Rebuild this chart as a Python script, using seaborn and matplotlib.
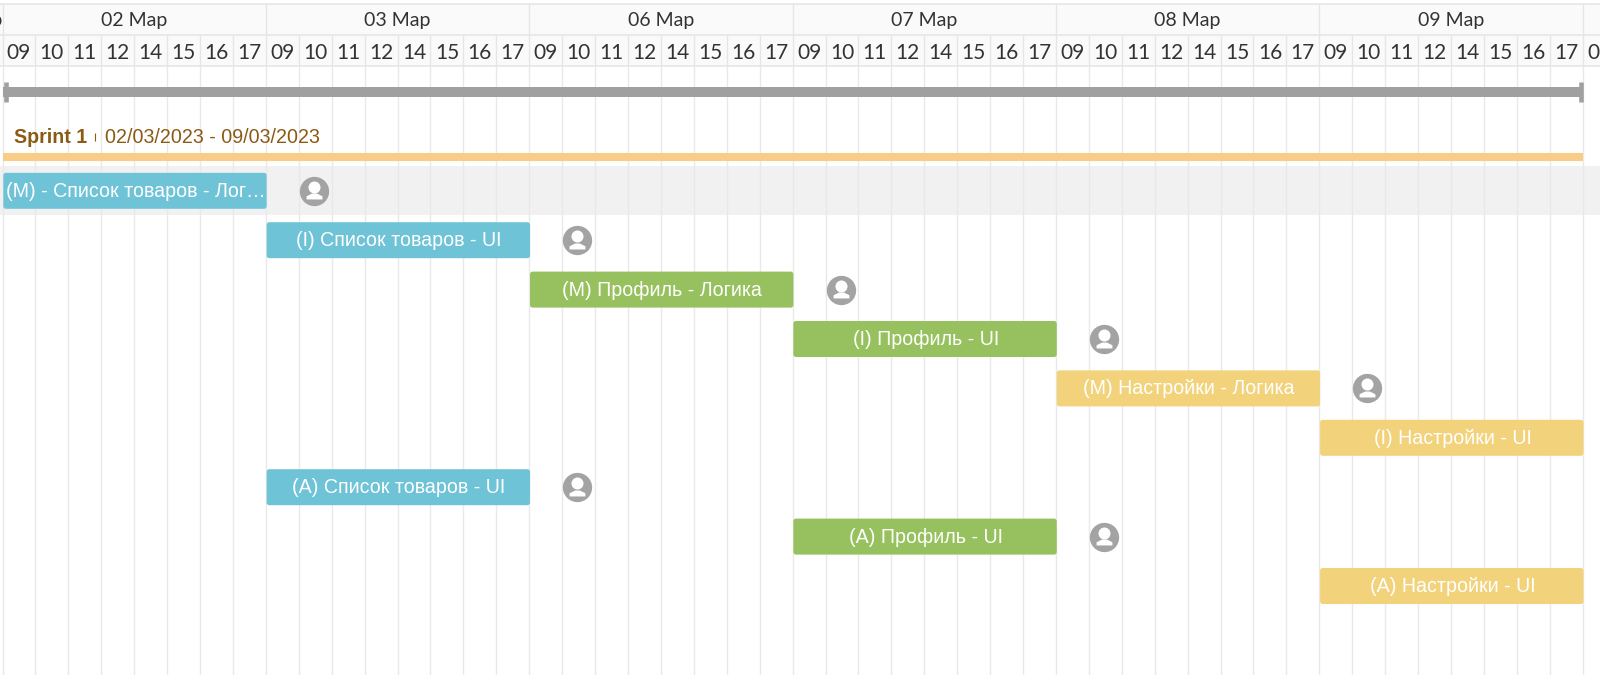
import matplotlib
matplotlib.use('Agg')
import numpy as np
import pandas as pd
import matplotlib.pyplot as plt
import seaborn as sns
from matplotlib.patches import FancyBboxPatch
from matplotlib.path import Path

# time axis is in working hours, 8 per day
day_labels = ['02 Мар', '03 Мар', '06 Мар', '07 Мар', '08 Мар', '09 Мар']
hour_labels = ['09', '10', '11', '12', '14', '15', '16', '17']

task_labels = [
    '(M) - Список товаров - Лог…',
    '(I) Список товаров - UI',
    '(M) Профиль - Логика',
    '(I) Профиль - UI',
    '(M) Настройки - Логика',
    '(I) Настройки - UI',
    '(A) Список товаров - UI',
    '(A) Профиль - UI',
    '(A) Настройки - UI',
]
task_rows = [0, 1, 2, 3, 4, 5, 6, 7, 8]
task_starts = [0, 8, 16, 24, 32, 40, 8, 24, 40]
task_hours = [8, 8, 8, 8, 8, 8, 8, 8, 8]
task_groups = ['list', 'list', 'profile', 'profile', 'settings', 'settings', 'list', 'profile', 'settings']

group_colors = {'list': '#6fc3d6', 'profile': '#96c15e', 'settings': '#f2d27a'}

sprint_name = 'Sprint 1'
sprint_dates = '02/03/2023 - 09/03/2023'
sprint_start = 0
sprint_end = 48

COL_PX = 32.92
ROW_PX = 49.4
X0_PX = 3.3
ROW0_PX = 190.8
GRID_SHIFT = 0.8 / COL_PX
HEADER_FONT = ['Lato', 'Open Sans', 'DejaVu Sans']
BODY_FONT = ['Liberation Sans', 'DejaVu Sans']


def y_px(px):
    """
    Converts a pixel row of the picture into the axis' row units
    """
    return (px - ROW0_PX) / ROW_PX


def x_px(px):
    """
    Converts a pixel column of the picture into the axis' hour units
    """
    return (px - X0_PX) / COL_PX


sns.set_theme(style='white')
fig = plt.figure(figsize=(16, 6.75), dpi=100)
ax = fig.add_axes([0, 0, 1, 1])

tasks = pd.DataFrame({
    'label': task_labels, 'row': task_rows, 'start': task_starts,
    'hours': task_hours, 'group': task_groups,
})
tasks['end'] = tasks['start'] + tasks['hours']

# one barplot per task since every bar has its own left edge
for _, task in tasks.iterrows():
    sns.barplot(x=[task['hours']], y=[task['row']], left=task['start'], orient='h', native_scale=True,
                color=group_colors[task['group']], saturation=1, width=36 / ROW_PX, linewidth=0, ax=ax)

# swap the square bars for slightly rounded ones
for bar in list(ax.patches):
    rounded = FancyBboxPatch((bar.get_x(), bar.get_y()), bar.get_width(), bar.get_height(),
                             boxstyle='round,pad=0,rounding_size=0.08', mutation_aspect=COL_PX / ROW_PX,
                             facecolor=bar.get_facecolor(), edgecolor='none', zorder=4)
    bar.remove()
    ax.add_patch(rounded)

ax.set_xlim(x_px(0), x_px(1600))
ax.set_ylim(y_px(675), y_px(0))
ax.axis('off')

for _, task in tasks.iterrows():
    ax.text(task['start'] + task['hours'] / 2 + 0.02, task['row'] + 0.01, task['label'], color='white', ha='center',
            va='center', fontsize=14.15, family=BODY_FONT, zorder=5)

# avatars sit to the right of each bar
avatars = tasks.assign(ax_x=tasks['end'] + 47.2 / COL_PX)
sns.scatterplot(data=avatars, x='ax_x', y='row', s=445, color='#a3a3a3', linewidth=0, legend=False, ax=ax, zorder=4)
sns.scatterplot(data=avatars, x='ax_x', y=avatars['row'] - 4 / ROW_PX, s=75, color='white', linewidth=0,
                legend=False, ax=ax, zorder=5)
shoulders = Path([(-1, -0.5), (-1, -0.1), (-0.3, 0.25), (0.3, 0.25), (1, -0.1), (1, -0.5), (-1, -0.5)])
sns.scatterplot(data=avatars, x='ax_x', y=avatars['row'] + 4.5 / ROW_PX, s=130, marker=shoulders, color='white',
                linewidth=0, legend=False, ax=ax, zorder=5)

# selected row band and column grid
ax.axhspan(y_px(166), y_px(215), color='#f1f1f1', linewidth=0, zorder=0)
num_hours = len(day_labels) * len(hour_labels) + 1
grid_x = np.arange(num_hours) - GRID_SHIFT
ax.vlines(grid_x, y_px(66), y_px(675), color='#e9e9e9', linewidth=1, zorder=1)

# header rows
ax.axhspan(y_px(4), y_px(66), color='#fafafa', linewidth=0, zorder=2)
ax.hlines([y_px(4), y_px(35), y_px(66)], x_px(0), x_px(1600), color='#e6e6e6', linewidth=1.2, zorder=3)
ax.vlines(grid_x[::8], y_px(4), y_px(35), color='#e6e6e6', linewidth=1, zorder=3)
ax.vlines(grid_x, y_px(35), y_px(66), color='#e6e6e6', linewidth=1, zorder=3)

for i, label in enumerate(day_labels):
    ax.text(i * 8 + 4 - GRID_SHIFT, y_px(20.5), label, ha='center', va='center', fontsize=14, color='#333333',
            family=HEADER_FONT, zorder=5)
for i in range(num_hours):
    ax.text(i + 0.5 - GRID_SHIFT, y_px(52.5), hour_labels[i % 8], ha='center', va='center', fontsize=15,
            color='#333333', family=HEADER_FONT, zorder=5)
# the previous day's label is cut by the left edge
ax.text(x_px(2.5), y_px(20.5), '01 Мар', ha='right', va='center', fontsize=14, color='#333333',
        family=HEADER_FONT, zorder=5)

# project summary bar with end caps
ax.hlines(y_px(92), sprint_start, sprint_end, color='#a0a0a0', linewidth=7.2, zorder=4)
ax.vlines([sprint_start + 2.3 / COL_PX, sprint_end - 2.3 / COL_PX], y_px(82), y_px(102), color='#a0a0a0',
          linewidth=3.3, zorder=4)

# sprint bar and its title
ax.hlines(y_px(157), sprint_start, sprint_end, color='#f7cd88', linewidth=5.8, zorder=4)
ax.text(x_px(13.5), y_px(137), sprint_name, ha='left', va='center', fontsize=14.1, fontweight='bold',
        color='#8b5a14', family=BODY_FONT, zorder=5)
ax.vlines(x_px(95.3), y_px(133), y_px(141), color='#8b5a14', linewidth=0.8, zorder=5)
ax.text(x_px(105), y_px(137), sprint_dates, ha='left', va='center', fontsize=14.15, color='#8b5a14',
        family=BODY_FONT, zorder=5)

fig.savefig('out.png', dpi=100)
